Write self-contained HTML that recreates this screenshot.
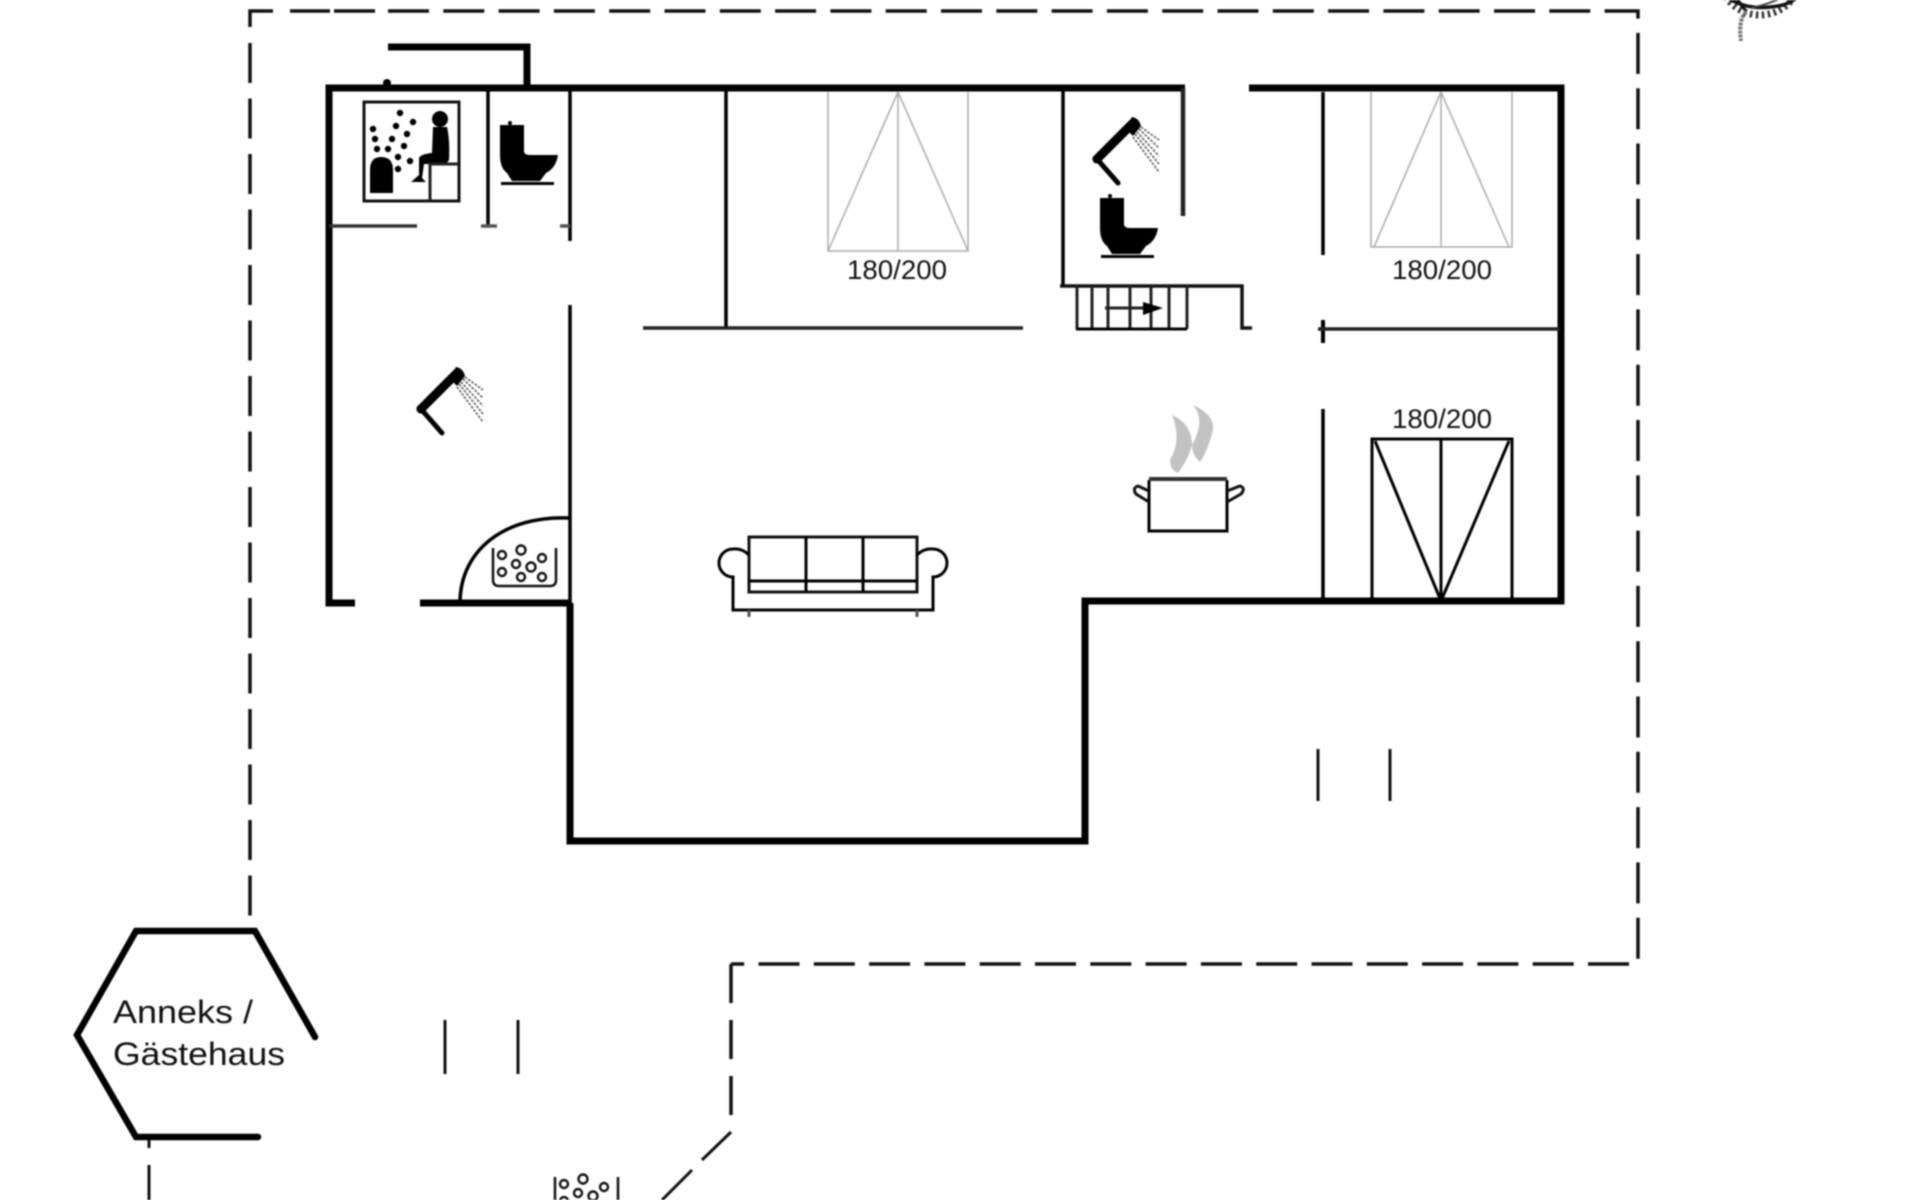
<!DOCTYPE html>
<html><head><meta charset="utf-8"><title>Floor plan</title>
<style>
html,body{margin:0;padding:0;background:#fff;width:1920px;height:1200px;overflow:hidden}
svg{display:block;filter:blur(.8px)}
text{font-family:"Liberation Sans",sans-serif;fill:#111}
</style></head><body>
<svg xmlns="http://www.w3.org/2000/svg" width="1920" height="1200" viewBox="0 0 1920 1200">
<defs>
<g id="shower">
<path d="M457 373 L421 409" fill="none" stroke="#000" stroke-width="9" stroke-linecap="round"/>
<path d="M421 409 L442 433" fill="none" stroke="#000" stroke-width="5" stroke-linecap="round"/>
<circle cx="421" cy="409" r="4.5" fill="#000"/>
<path d="M456 367 Q463 368 465 376 L457 386 L449 378Z" fill="#000"/>
<g stroke="#555" stroke-width="1.6" stroke-dasharray="2.5 1.5" fill="none">
<path d="M465 377L483 390M463 379L483 398M461 382L483 406M459 384L483 414M457 387L483 422"/>
</g>
</g>
<g id="toilet">
<circle cx="510" cy="123" r="2" fill="#000"/>
<path d="M500 125 H524 V152 Q525 155 530 155 H558 Q556 168 546 173 L540 181 H512 L507 173 Q500 168 500 155 Z" fill="#000"/>
<rect x="501" y="182" width="53" height="3" fill="#000"/>
</g>
<g id="bath" fill="none" stroke="#111">
<path d="M493 548 V580 Q493 586 499 586 H550 Q556 586 556 580 V548" stroke-width="2.5"/>
<g stroke-width="2.4">
<circle cx="502" cy="555" r="4"/><circle cx="521" cy="550" r="4.5"/><circle cx="542" cy="558" r="4"/><circle cx="516" cy="564" r="4"/><circle cx="531" cy="567" r="4.5"/><circle cx="502" cy="572" r="4"/><circle cx="521" cy="577" r="4"/><circle cx="542" cy="577" r="4"/>
</g>
</g>
</defs>

<!-- compass -->
<g fill="none">
<circle cx="1760" cy="-26" r="41" stroke="#333" stroke-width="7" stroke-dasharray="2.5 3.5"/>
<path d="M1720 -10 Q1740 14 1783 5 Q1795 1 1800 -6" stroke="#111" stroke-width="3.5"/>
<path d="M1735 -4 L1745 10" stroke="#111" stroke-width="3"/>
<path d="M1751 8 Q1770 4 1785 -4" stroke="#444" stroke-width="2"/>
<path d="M1746 12 Q1738 20 1741 41" stroke="#777" stroke-width="4" stroke-dasharray="3 1"/>
</g>

<!-- dashed outline -->
<g fill="none" stroke="#111" stroke-width="3.5">
<path d="M273 11 H250 V27"/>
<path d="M290 11 H330 M334 11 H375" />
<path d="M388 11 H1638 V964 H731" stroke-dasharray="41 14.3"/>
<path d="M250 43 V930" stroke-dasharray="40 15.5"/>
<path d="M731 964 V1115" stroke-dasharray="39 17"/>
<path d="M731 1132 L702 1160 M692 1170 L662 1200" stroke-width="3"/>
<path d="M149 1140 V1148 M149 1165 V1200" stroke-width="3"/>
<path d="M1318 749 V801 M1390 749 V801 M445 1020 V1074 M518 1020 V1074" stroke-width="3"/>
</g>

<!-- thick walls -->
<g fill="none" stroke="#000" stroke-width="7">
<path d="M355 603 H329 V88 H1185"/>
<path d="M388 47 H527 V88"/>
<path d="M1249 88 H1561 V601 H1085 V841 H570 V603"/>
<path d="M420 603 H570" />
</g>
<circle cx="387" cy="83" r="4" fill="#000"/>

<!-- thin walls -->
<g fill="none" stroke="#000" stroke-width="3.5">
<path d="M570 241 V88"/><path d="M570 305 V603"/>
<path d="M488 88 V226"/>
<path d="M481 226 H497 M560 226 H570" stroke="#555"/>
<path d="M329 226 H417" stroke="#333"/>
<path d="M726 88 V328"/>
<path d="M643 328 H1023" stroke="#222"/>
<path d="M1063 88 V287"/>
<path d="M1183 88 V216" stroke="#222" stroke-width="4.5"/>
<path d="M1060 286 H1242 V328 H1252" stroke="#111"/>
<path d="M1323 92 V255 M1323 409 V601"/>
<path d="M1323 320 V343" stroke-width="4"/>
<path d="M1318 329 H1560" stroke="#222"/>
<path d="M460 603 C460 550 505 515 570 518"/>
</g>

<!-- stairs -->
<g fill="none" stroke="#222" stroke-width="3">
<path d="M1077 286 V329 M1092 286 V329 M1108 286 V329 M1130 286 V329 M1151 286 V329 M1169 286 V329 M1187 286 V329"/>
<path d="M1076 329 H1187" stroke="#000"/>
<path d="M1105 308 H1150"/>
</g>
<path d="M1143 302 L1163 308 L1143 315Z" fill="#000"/>

<!-- beds -->
<g fill="none" stroke="#aaa" stroke-width="1.5">
<path d="M828 92 V251 H968 V92 M898 92 V251 M898 92 L828 251 M898 92 L968 251"/>
<path d="M1371 92 V247 H1512 V92 M1441 92 V247 M1441 92 L1374 247 M1441 92 L1509 247"/>
</g>
<g fill="none" stroke="#000" stroke-width="3">
<path d="M1372 601 V439 H1512 V601 M1441 439 V601 M1441 601 L1375 441 M1441 601 L1509 441"/>
</g>
<text x="847" y="279" font-size="27" textLength="100" lengthAdjust="spacingAndGlyphs">180/200</text>
<text x="1392" y="279" font-size="27" textLength="100" lengthAdjust="spacingAndGlyphs">180/200</text>
<text x="1392" y="428" font-size="27" textLength="100" lengthAdjust="spacingAndGlyphs">180/200</text>

<!-- sauna -->
<g>
<rect x="364" y="102" width="95" height="99" fill="none" stroke="#111" stroke-width="3"/>
<path d="M370 193 V170 Q370 157 381 157 Q393 157 393 170 V193Z" fill="#000"/>
<g fill="#000"><circle cx="400" cy="113" r="3.2"/><circle cx="413" cy="122" r="3.2"/><circle cx="396" cy="126" r="3.2"/><circle cx="373" cy="129" r="3.2"/><circle cx="407" cy="134" r="3.2"/><circle cx="375" cy="139" r="3.2"/><circle cx="392" cy="139" r="3.2"/><circle cx="404" cy="146" r="3.2"/><circle cx="377" cy="149" r="3.2"/><circle cx="388" cy="149" r="3.2"/><circle cx="398" cy="157" r="3.2"/><circle cx="410" cy="161" r="3.2"/><circle cx="398" cy="169" r="3.2"/></g>
<circle cx="440" cy="119" r="8" fill="#000"/>
<path d="M433 127 H447 Q450 140 449 160 L446 164 H424 L422 178 L426 182 H411 L419 175 L419 158 Q421 154 432 153 Z" fill="#000"/>
<path d="M430 200 V164 H458" fill="none" stroke="#222" stroke-width="3"/>
</g>

<use href="#toilet"/>
<use href="#toilet" x="600" y="73"/>
<use href="#shower"/>
<use href="#shower" x="676" y="-250"/>
<use href="#bath"/>
<use href="#bath" x="62" y="629"/>

<!-- sofa -->
<g fill="none" stroke="#000" stroke-width="3">
<rect x="749" y="537" width="168" height="55" stroke="#111"/>
<path d="M806 537 V592 M863 537 V592 M749 581 H917"/>
<path d="M749 555 Q742 548 733 549 A14 14 0 0 0 733 577 V610 H933 V577 A14 14 0 0 0 933 549 Q924 548 917 555"/>
<path d="M749 610 V617 M917 610 V617" stroke="#555"/>
</g>

<!-- pot -->
<g>
<path d="M1172 415 Q1192 424 1192 445 Q1188 460 1178 473 Q1170 470 1170 460 Q1182 440 1172 415Z" fill="#c2c2c2"/>
<path d="M1193 405 Q1215 415 1213 430 Q1208 450 1200 462 Q1192 455 1192 445 Q1206 420 1193 405Z" fill="#c2c2c2"/>
<path d="M1149 480 V531 H1227 V480" fill="none" stroke="#000" stroke-width="3"/>
<path d="M1149 479 H1227" stroke="#333" stroke-width="4"/>
<path d="M1149 502 L1136 494 Q1132 488 1138 486 L1149 491 M1227 502 L1241 494 Q1246 488 1240 486 L1227 491" fill="none" stroke="#111" stroke-width="3"/>
</g>

<!-- annex -->
<path d="M315 1037 L255 931 H136 L77 1035 L136 1137 H258" fill="none" stroke="#000" stroke-width="6.5" stroke-linecap="round"/>
<text x="113" y="1023" font-size="32" textLength="140" lengthAdjust="spacingAndGlyphs">Anneks /</text>
<text x="113" y="1065" font-size="32" textLength="172" lengthAdjust="spacingAndGlyphs">Gästehaus</text>
</svg>
</body></html>
